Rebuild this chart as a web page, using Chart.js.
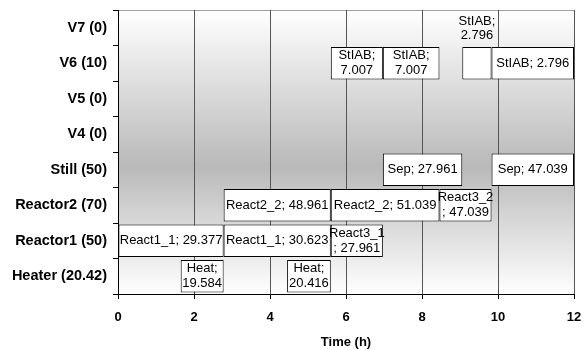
<!DOCTYPE html>
<html>
<head>
<meta charset="utf-8">
<script src="https://cdn.jsdelivr.net/npm/chart.js@4"></script>
<style>
  html, body { margin: 0; padding: 0; background: #fff; }
  #wrap { width: 586px; height: 350px; }
</style>
</head>
<body>
<div id="wrap"><canvas id="gantt" width="586" height="350"></canvas></div>
<script>
// units (rows, top to bottom)
const units = ['V7 (0)', 'V6 (10)', 'V5 (0)', 'V4 (0)', 'Still (50)', 'Reactor2 (70)', 'Reactor1 (50)', 'Heater (20.42)'];

// tasks
const taskUnit = ['Heater (20.42)', 'Heater (20.42)', 'Reactor1 (50)', 'Reactor1 (50)', 'Reactor1 (50)',
  'Reactor2 (70)', 'Reactor2 (70)', 'Reactor2 (70)', 'Still (50)', 'Still (50)',
  'V6 (10)', 'V6 (10)', 'V6 (10)', 'V6 (10)'];
const taskStart = [1.65, 4.45, 0, 2.78, 5.6, 2.78, 5.6, 8.46, 6.97, 9.83, 5.6, 6.97, 9.06, 9.83];
const taskEnd = [2.78, 5.6, 2.78, 5.6, 6.97, 5.6, 8.46, 9.83, 9.06, 12, 6.97, 8.46, 9.83, 12];
const taskLabel = ['Heat;\n19.584', 'Heat;\n20.416', 'React1_1; 29.377', 'React1_1; 30.623', 'React3_1\n; 27.961',
  'React2_2; 48.961', 'React2_2; 51.039', 'React3_2\n; 47.039', 'Sep; 27.961', 'Sep; 47.039',
  'StIAB;\n7.007', 'StIAB;\n7.007', 'StIAB;\n2.796', 'StIAB; 2.796'];
const labelAbove = [false, false, false, false, false, false, false, false, false, false, false, false, true, false];

const xTicks = [0, 2, 4, 6, 8, 10, 12];

const FONT = '"Liberation Sans", Arial, sans-serif';

const bgPlugin = {
  id: 'bg',
  beforeDraw(chart) {
    const { ctx, chartArea: a } = chart;
    const g = ctx.createLinearGradient(0, a.top, 0, a.bottom);
    g.addColorStop(0, '#ffffff');
    g.addColorStop(0.55, '#b9b9b9');
    g.addColorStop(1, '#ffffff');
    ctx.save();
    ctx.fillStyle = g;
    ctx.fillRect(a.left, a.top, a.right - a.left, a.bottom - a.top);
    ctx.strokeStyle = '#a0a0a0';
    ctx.lineWidth = 1;
    ctx.beginPath();
    ctx.moveTo(a.left, a.top + 0.5);
    ctx.lineTo(a.right, a.top + 0.5);
    ctx.stroke();
    ctx.restore();
  }
};

const labelPlugin = {
  id: 'barLabels',
  afterDatasetsDraw(chart) {
    const { ctx } = chart;
    const meta = chart.getDatasetMeta(0);
    ctx.save();
    ctx.fillStyle = '#000';
    ctx.font = '13px ' + FONT;
    ctx.textAlign = 'center';
    ctx.textBaseline = 'middle';
    meta.data.forEach((bar, i) => {
      const lines = taskLabel[i].split('\n');
      const cx = (bar.x + bar.base) / 2;
      let cy = bar.y;
      let lh = 15;
      if (labelAbove[i]) {
        const ys = chart.scales.y;
        cy = ys.getPixelForValue(units.indexOf(taskUnit[i]) - 1) + 1;
        lh = 14;
      }
      lines.forEach((t, k) => {
        ctx.fillText(t, cx, cy + (k - (lines.length - 1) / 2) * lh);
      });
    });
    ctx.restore();
  }
};

const ctx = document.getElementById('gantt').getContext('2d');
new Chart(ctx, {
  type: 'bar',
  data: {
    labels: units,
    datasets: [{
      data: taskUnit.map((u, i) => ({ x: [taskStart[i], taskEnd[i]], y: u })),
      backgroundColor: '#ffffff',
      borderColor: '#000000',
      borderWidth: 1,
      borderSkipped: false,
      categoryPercentage: 1,
      barPercentage: 0.91
    }]
  },
  options: {
    indexAxis: 'y',
    responsive: false,
    animation: false,
    layout: { padding: { top: 10, right: 12, left: 0, bottom: 0 } },
    plugins: {
      legend: { display: false },
      tooltip: { enabled: false }
    },
    scales: {
      x: {
        type: 'linear',
        min: 0,
        max: 12,
        afterBuildTicks: (s) => { s.ticks = xTicks.map(v => ({ value: v })); },
        afterFit: (s) => { s.height = 56; s.paddingLeft = 0; s.paddingRight = 0; },
        grid: { color: '#555555', tickColor: '#000000', tickLength: 5, lineWidth: 1 },
        border: { color: '#000000' },
        ticks: { color: '#000', font: { family: FONT, size: 13, weight: 'bold' }, padding: 11 },
        title: { display: true, text: 'Time (h)', color: '#000', font: { family: FONT, size: 13, weight: 'bold' }, padding: { top: 4, bottom: 0 } }
      },
      y: {
        type: 'category',
        afterFit: (s) => { s.width = 118; s.paddingTop = 0; s.paddingBottom = 0; },
        grid: { drawOnChartArea: false, color: '#000000', tickLength: 5, offset: true },
        border: { color: '#000000' },
        ticks: { color: '#000', font: { family: FONT, size: 14.5, weight: 'bold' }, padding: 6 }
      }
    }
  },
  plugins: [bgPlugin, labelPlugin]
});
</script>
</body>
</html>
